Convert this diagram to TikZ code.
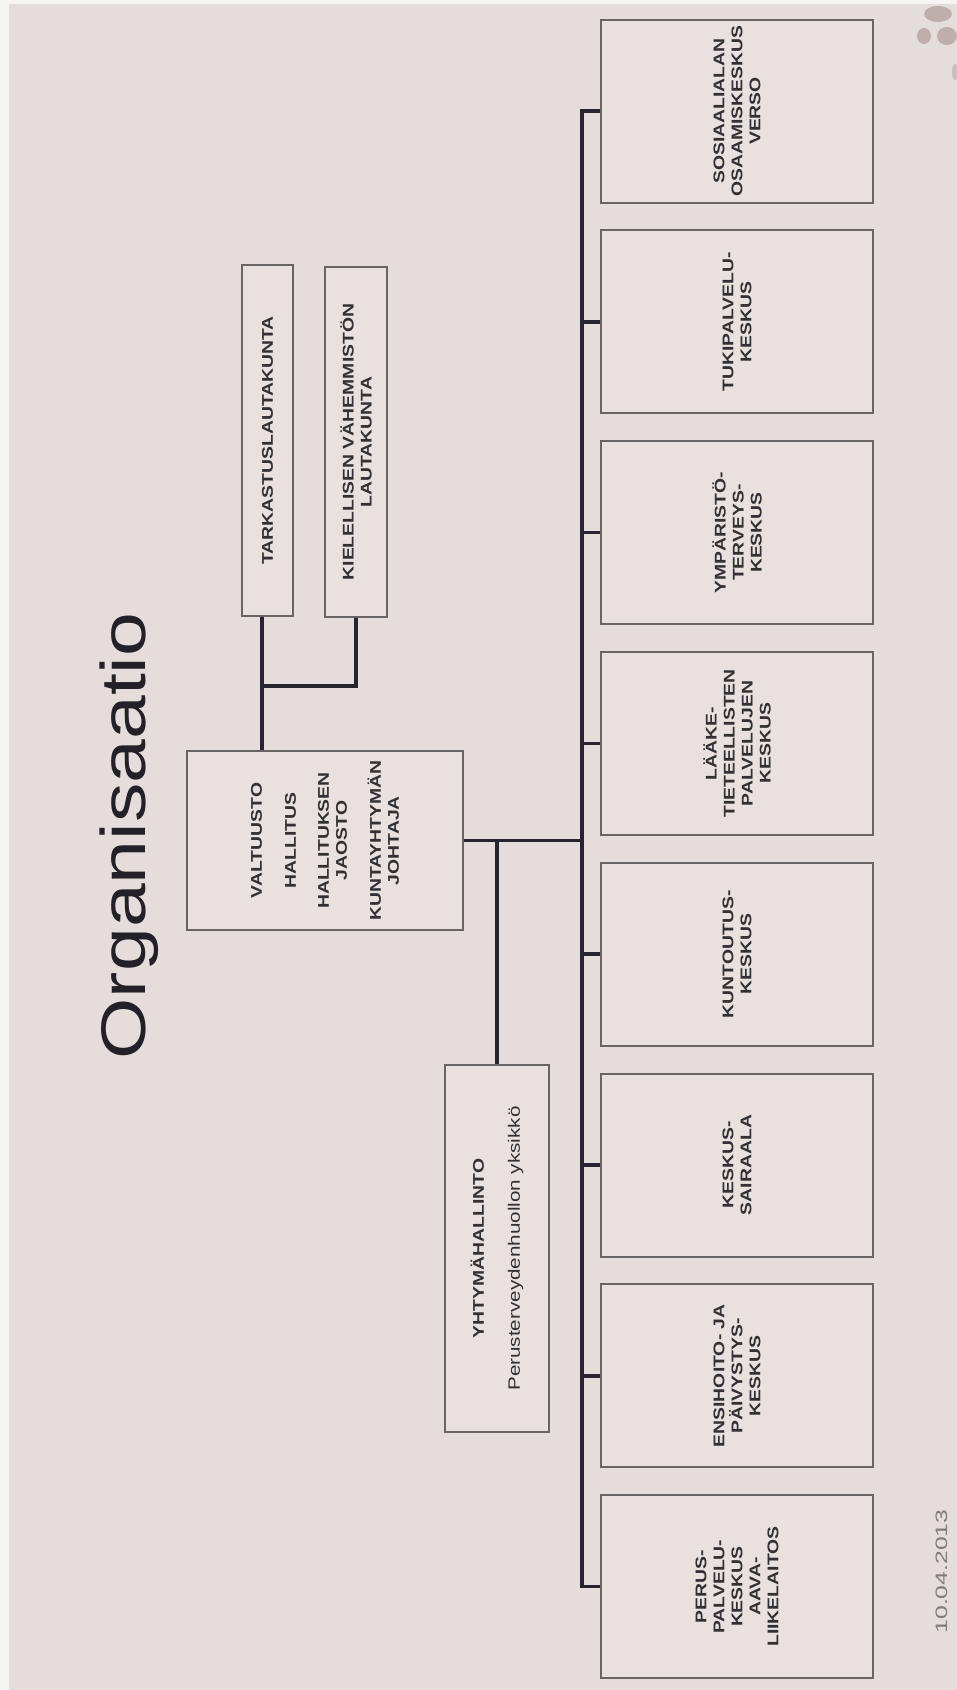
\documentclass[tikz,border=0pt]{standalone}
\usepackage{fontspec}
\setmainfont{Liberation Sans}[FakeStretch=1.25]
\newfontfamily\datefont{Liberation Sans}[FakeStretch=1.5]
\definecolor{bg}{RGB}{229,221,219}
\definecolor{boxfill}{RGB}{232,225,223}
\definecolor{boxline}{RGB}{105,100,102}
\definecolor{connc}{RGB}{40,36,45}
\definecolor{txt}{RGB}{50,48,52}
\definecolor{titlec}{RGB}{35,32,40}
\definecolor{datec}{RGB}{128,122,122}
\definecolor{logoc}{RGB}{178,160,158}
\begin{document}
\begin{tikzpicture}[x=1pt,y=-1pt,
  box/.style={draw=boxline, line width=2pt, fill=boxfill, rotate=90, inner sep=0pt,
    align=center, text=txt, font=\bfseries\fontsize{15.5}{18}\selectfont},
  rbox/.style={box, minimum width=183pt, minimum height=272pt},
  conn/.style={draw=connc, line width=3.5pt},
  blob/.style={fill=logoc, opacity=0.75},
]
\fill[bg] (0,0) rectangle (957,1690);
\useasboundingbox (0,0) rectangle (957,1690);
\fill[white!70!bg] (0,0) rectangle (9,1690);
\fill[white!70!bg] (0,0) rectangle (957,4);
% partial logo (cut off at the edge)
\fill[blob] (938,14) ellipse (14pt and 8pt);
\fill[blob] (924,36) ellipse (7pt and 8pt);
\fill[blob] (947,36) ellipse (10pt and 9pt);
\fill[blob, opacity=0.5] (955,72) ellipse (3pt and 8pt);

% title
\node[rotate=90, anchor=base, font=\fontsize{63}{70}\selectfont, text=titlec, inner sep=0pt] (title) at (145,836) {Organisaatio};

% right column
\node[rbox] (b1) at (737,111.0) {SOSIAALIALAN\\OSAAMISKESKUS\\VERSO};
\node[rbox] (b2) at (737,321.8) {TUKIPALVELU-\\KESKUS};
\node[rbox] (b3) at (737,532.6) {YMPÄRISTÖ-\\TERVEYS-\\KESKUS};
\node[rbox] (b4) at (737,743.4) {LÄÄKE-\\TIETEELLISTEN\\PALVELUJEN\\KESKUS};
\node[rbox] (b5) at (737,954.2) {KUNTOUTUS-\\KESKUS};
\node[rbox] (b6) at (737,1165.0) {KESKUS-\\SAIRAALA};
\node[rbox] (b7) at (737,1375.8) {ENSIHOITO- JA\\PÄIVYSTYS-\\KESKUS};
\node[rbox] (b8) at (737,1586.6) {PERUS-\\PALVELU-\\KESKUS\\AAVA-\\LIIKELAITOS};

% central boxes
\node[box, minimum width=179pt, minimum height=276pt] (val) at (325,840.5)
  {VALTUUSTO\\[16pt]HALLITUS\\[15pt]HALLITUKSEN\\JAOSTO\\[16pt]KUNTAYHTYMÄN\\JOHTAJA};
\node[box, minimum width=351pt, minimum height=51pt] (tark) at (267.5,440.5) {TARKASTUSLAUTAKUNTA};
\node[box, minimum width=350pt, minimum height=62pt] (kiel) at (356,442) {KIELELLISEN VÄHEMMISTÖN\\LAUTAKUNTA};
\node[box, minimum width=367pt, minimum height=104pt] (yht) at (497,1248.5)
  {YHTYMÄHALLINTO\\[18pt]{\mdseries\fontsize{16.5}{18}\selectfont Perusterveydenhuollon yksikkö}};

% date
\node[rotate=90, anchor=base, font=\datefont\fontsize{16.5}{20}\selectfont, text=datec, inner sep=0pt] (date) at (947,1571.5) {10.04.2013};

% connectors
\coordinate (bus) at (582,0);
\coordinate (jn) at (262,686);
\draw[conn] (b1.north) -- (b1.north -| bus) -- (b8.north -| bus) -- (b8.north);
\foreach \i in {2,...,7} \draw[conn] (b\i.north) -- (b\i.north -| bus);
\draw[conn] (val.south) -- (val.south -| bus);
\draw[conn] (yht.east) -- (yht.east |- val.south);
\draw[conn] ([xshift=-5.5pt]tark.west) -- ([xshift=-5.5pt]tark.west |- val.east);
\draw[conn] (kiel.west) -- (kiel.west |- jn) -- (jn);
\end{tikzpicture}
\end{document}
